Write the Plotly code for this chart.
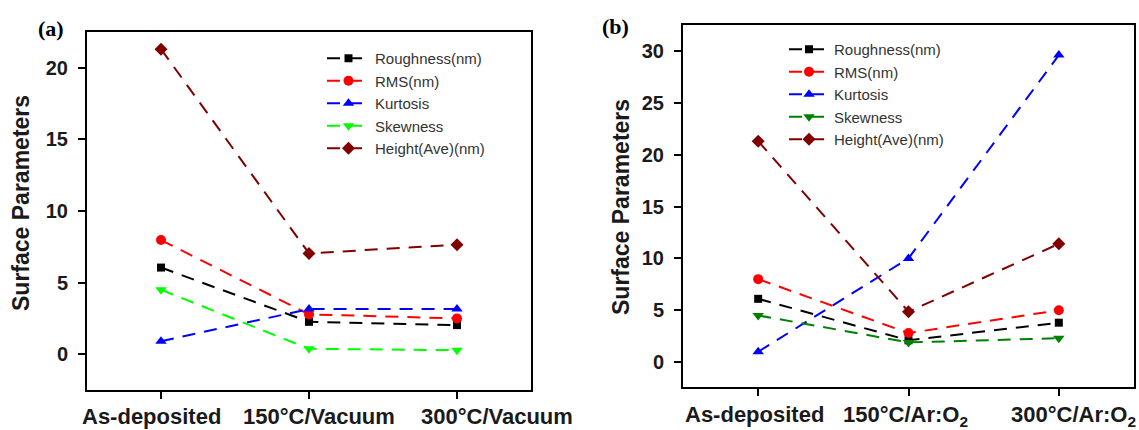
import plotly.graph_objects as go

# ---- data ----
cats_a = ["As-deposited", "150°C/Vacuum", "300°C/Vacuum"]
cats_b = ["As-deposited", "150°C/Ar:O<sub>2</sub>", "300°C/Ar:O<sub>2</sub>"]
series_names = ["Roughness(nm)", "RMS(nm)", "Kurtosis", "Skewness", "Height(Ave)(nm)"]

a_roughness = [6.05, 2.26, 2.03]
a_rms = [7.97, 2.78, 2.50]
a_kurtosis = [0.91, 3.15, 3.15]
a_skewness = [4.50, 0.38, 0.28]
a_height = [21.3, 7.04, 7.65]

b_roughness = [6.1, 2.1, 3.8]
b_rms = [8.0, 2.8, 5.0]
b_kurtosis = [1.0, 10.0, 29.6]
b_skewness = [4.5, 1.9, 2.3]
b_height = [21.3, 4.86, 11.4]

yticks_a = [0, 5, 10, 15, 20]
yticks_b = [0, 5, 10, 15, 20, 25, 30]

# ---- styles ----
symbols = ["square", "circle", "triangle-up", "triangle-down", "diamond"]
msizes = [8, 10, 10, 10, 10]
colors_a = ["#000000", "#FF0000", "#0000FF", "#00FF00", "#800000"]
colors_b = ["#000000", "#FF0000", "#0000FF", "#008000", "#800000"]
label_shift_a = [-10, 10, 40]   # pixel nudges of category labels as in the original
label_shift_b = [-4, -3, 15]

SANS = "Arial, Liberation Sans, sans-serif"
SERIF = "Times New Roman, Liberation Serif, serif"
W, H = 1139, 430

fig = go.Figure()

vals_a = [a_roughness, a_rms, a_kurtosis, a_skewness, a_height]
vals_b = [b_roughness, b_rms, b_kurtosis, b_skewness, b_height]

for i, name in enumerate(series_names):
    fig.add_trace(go.Scatter(
        x=cats_a, y=vals_a[i], name=name, mode="lines+markers",
        line=dict(color=colors_a[i], width=2, dash="13px,9px"),
        marker=dict(symbol=symbols[i], size=msizes[i], color=colors_a[i]),
        xaxis="x", yaxis="y", legend="legend",
    ))
for i, name in enumerate(series_names):
    fig.add_trace(go.Scatter(
        x=cats_b, y=vals_b[i], name=name, mode="lines+markers",
        line=dict(color=colors_b[i], width=2, dash="13px,9px"),
        marker=dict(symbol=symbols[i], size=msizes[i], color=colors_b[i]),
        xaxis="x2", yaxis="y2", legend="legend2",
    ))

axis_common = dict(
    showline=True, linecolor="black", linewidth=2, mirror=True,
    showgrid=False, zeroline=False,
    ticks="outside", ticklen=7, tickwidth=2, tickcolor="black",
    tickfont=dict(family=SANS, size=20, color="#1a1a1a", weight="bold"),
    automargin=False,
)

dom_a_y = [1 - 390 / H, 1 - 32 / H]
dom_b_y = [1 - 387 / H, 1 - 25 / H]

annotations = [
    dict(text="(a)", x=51 / W, y=1 - 28 / H, xref="paper", yref="paper",
         xanchor="center", yanchor="middle", showarrow=False,
         font=dict(family=SERIF, size=22, color="black", weight="bold")),
    dict(text="(b)", x=615 / W, y=1 - 26 / H, xref="paper", yref="paper",
         xanchor="center", yanchor="middle", showarrow=False,
         font=dict(family=SERIF, size=22, color="black", weight="bold")),
    dict(text="Surface Parameters", textangle=-90, x=21 / W, y=1 - 203 / H,
         xref="paper", yref="paper", xanchor="center", yanchor="middle", showarrow=False,
         font=dict(family=SANS, size=23, color="#1a1a1a", weight="bold")),
    dict(text="Surface Parameters", textangle=-90, x=621 / W, y=1 - 207 / H,
         xref="paper", yref="paper", xanchor="center", yanchor="middle", showarrow=False,
         font=dict(family=SANS, size=23, color="#1a1a1a", weight="bold")),
]
for c, s in zip(cats_a, label_shift_a):
    annotations.append(dict(text=c, x=c, xref="x", y=dom_a_y[0], yref="paper",
                            yanchor="top", xanchor="center", xshift=s, yshift=-12,
                            showarrow=False,
                            font=dict(family=SANS, size=22, color="#1a1a1a", weight="bold")))
for c, s in zip(cats_b, label_shift_b):
    annotations.append(dict(text=c, x=c, xref="x2", y=dom_b_y[0], yref="paper",
                            yanchor="top", xanchor="center", xshift=s, yshift=-13,
                            showarrow=False,
                            font=dict(family=SANS, size=22, color="#1a1a1a", weight="bold")))

fig.update_layout(
    width=W, height=H,
    margin=dict(l=0, r=0, t=0, b=0),
    paper_bgcolor="white", plot_bgcolor="white",
    xaxis=dict(domain=[87 / W, 531 / W], range=[-0.5, 2.5], type="category",
               anchor="y", showticklabels=False, **axis_common),
    yaxis=dict(domain=dom_a_y, range=[-2.5, 22.5], tickvals=yticks_a,
               anchor="x", ticklabelstandoff=6, **axis_common),
    xaxis2=dict(domain=[683 / W, 1134 / W], range=[-0.5, 2.5], type="category",
                anchor="y2", showticklabels=False, **axis_common),
    yaxis2=dict(domain=dom_b_y, range=[-2.4, 32.5], tickvals=yticks_b,
                anchor="x2", ticklabelstandoff=6, **axis_common),
    legend=dict(x=322 / W, y=1 - 42 / H, xanchor="left", yanchor="top",
                bgcolor="rgba(0,0,0,0)", borderwidth=0, itemwidth=43,
                font=dict(family=SANS, size=15, color="#333333")),
    legend2=dict(x=784 / W, y=1 - 33 / H, xanchor="left", yanchor="top",
                 bgcolor="rgba(0,0,0,0)", borderwidth=0, itemwidth=40,
                 font=dict(family=SANS, size=15, color="#333333")),
    showlegend=True,
    annotations=annotations,
)

fig.write_html("out.html", config={"displayModeBar": False},
               post_script="document.body.style.margin='0';document.body.style.overflow='hidden';")
